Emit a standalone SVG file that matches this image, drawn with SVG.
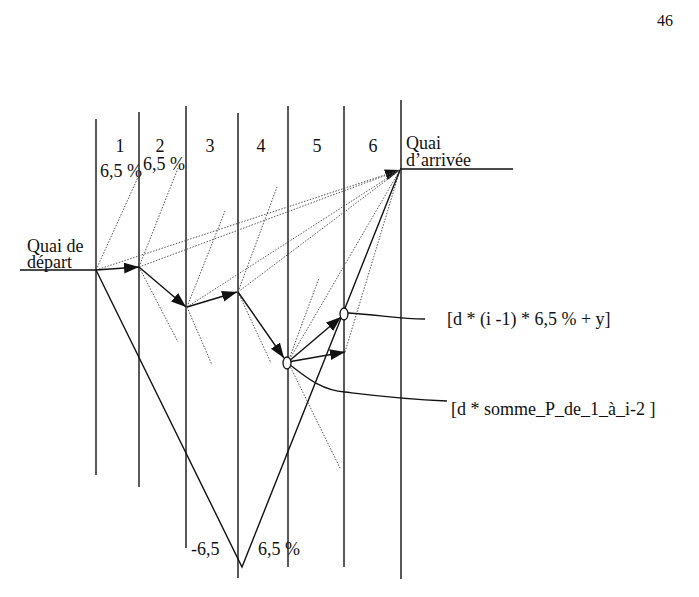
<svg xmlns="http://www.w3.org/2000/svg" width="699" height="597" viewBox="0 0 699 597">
<style>
.t{font-family:"Liberation Serif","DejaVu Serif","Times New Roman",serif;font-size:18px;fill:#111}
.col{stroke:#222;stroke-width:1.5;fill:none}
.sol{stroke:#111;stroke-width:1.4;fill:none}
.dot{stroke:#555;stroke-width:1;stroke-dasharray:1.5 1.5;fill:none}
.lead{stroke:#111;stroke-width:1.3;fill:none}
.nd{fill:#fff;stroke:#111;stroke-width:1.3}
</style>
<defs>
<marker id="ah" markerUnits="userSpaceOnUse" markerWidth="16" markerHeight="12" refX="15" refY="5.5" orient="auto">
<path d="M0,0 L15,5.5 L0,11 z" fill="#111"/>
</marker>
</defs>
<rect width="699" height="597" fill="#fff"/>
<text class="t" x="657" y="26" font-size="16" style="font-size:16px">46</text>
<g id="columns">
<line class="col" x1="96" y1="119" x2="96" y2="475"/>
<line class="col" x1="139" y1="112" x2="139" y2="487"/>
<line class="col" x1="186" y1="106" x2="186" y2="548"/>
<line class="col" x1="238" y1="113" x2="238" y2="578"/>
<line class="col" x1="288" y1="106" x2="288" y2="567"/>
<line class="col" x1="344" y1="106" x2="344" y2="567"/>
<line class="col" x1="401" y1="100" x2="401" y2="579"/>
<text class="t" x="120" y="152" text-anchor="middle">1</text>
<text class="t" x="160" y="152" text-anchor="middle">2</text>
<text class="t" x="210" y="152" text-anchor="middle">3</text>
<text class="t" x="261" y="152" text-anchor="middle">4</text>
<text class="t" x="317" y="152" text-anchor="middle">5</text>
<text class="t" x="373" y="152" text-anchor="middle">6</text>
<text class="t" x="100" y="177">6,5 %</text>
<text class="t" x="143" y="170">6,5 %</text>
<text class="t" x="191" y="555">-6,5</text>
<text class="t" x="258" y="555">6,5 %</text>
</g>
<g id="depart">
<line class="sol" x1="20" y1="270" x2="96" y2="270"/>
<text class="t" x="27" y="252">Quai de</text>
<text class="t" x="27" y="268">départ</text>
</g>
<g id="arrivee">
<line class="sol" x1="400" y1="169" x2="513" y2="169"/>
<text class="t" x="406" y="149">Quai</text>
<text class="t" x="406" y="166">d’arrivée</text>
</g>
<g id="connectors">
<line class="dot" x1="96" y1="270" x2="400" y2="170" marker-end="url(#ah)"/>
<line class="dot" x1="139" y1="267" x2="400" y2="170"/>
<line class="dot" x1="187" y1="307" x2="400" y2="170"/>
<line class="dot" x1="238" y1="292" x2="400" y2="170"/>
<line class="dot" x1="288" y1="362" x2="400" y2="170"/>
<line class="dot" x1="345" y1="352" x2="400" y2="170"/>
<line class="dot" x1="96" y1="270" x2="139" y2="175"/>
<line class="dot" x1="139" y1="267" x2="178" y2="168"/>
<line class="dot" x1="187" y1="307" x2="225" y2="211"/>
<line class="dot" x1="238" y1="292" x2="277" y2="187"/>
<line class="dot" x1="288" y1="362" x2="319" y2="278"/>
<line class="dot" x1="139" y1="267" x2="178" y2="342"/>
<line class="dot" x1="187" y1="307" x2="212" y2="365"/>
<line class="dot" x1="238" y1="292" x2="271" y2="363"/>
<line class="dot" x1="288" y1="362" x2="340" y2="468"/>
<polyline class="sol" points="96,270 242,567 400,170"/>
<line class="sol" x1="96" y1="270" x2="139" y2="267" marker-end="url(#ah)"/>
<line class="sol" x1="139" y1="267" x2="186" y2="307" marker-end="url(#ah)"/>
<line class="sol" x1="187" y1="307" x2="237" y2="292" marker-end="url(#ah)"/>
<line class="sol" x1="238" y1="292" x2="284" y2="358" marker-end="url(#ah)"/>
<line class="sol" x1="288" y1="362" x2="341" y2="317" marker-end="url(#ah)"/>
<line class="sol" x1="288" y1="362" x2="345" y2="352" marker-end="url(#ah)"/>
<path class="lead" d="M348,313 C380,315 400,319 425,319"/>
<path class="lead" d="M290,365 C305,376 320,390 345,392 C370,395 400,399 447,401"/>
</g>
<g id="node-i1">
<ellipse class="nd" cx="287" cy="363" rx="4" ry="6"/>
</g>
<g id="node-i">
<ellipse class="nd" cx="344" cy="314" rx="4" ry="6"/>
</g>
<g id="labels">
<text class="t" x="447" y="325">[d * (i -1) * 6,5 % + y]</text>
<text class="t" x="451" y="415">[d * somme_P_de_1_à_i-2 ]</text>
</g>
</svg>
